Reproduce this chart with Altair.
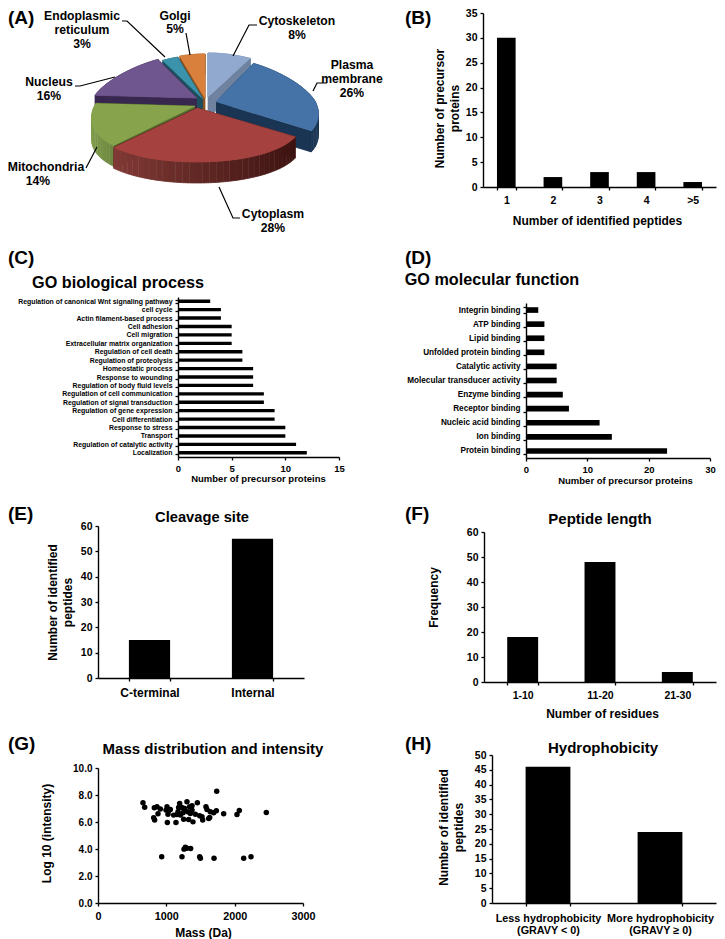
import math
import altair as alt
import pandas as pd

FONT = "Liberation Sans"
OX, OY = -8, -8   # page pixel -> chart pixel
W, H = 709, 931

# ---- data ----
pie_names = ["Cytoskeleton", "Plasma membrane", "Cytoplasm", "Mitochondria", "Nucleus", "Endoplasmic reticulum", "Golgi"]
pie_shares = [8, 26, 28, 14, 16, 3, 5]

b_cats = ["1", "2", "3", "4", ">5"]
b_vals = [30, 2, 3, 3, 1]

c_cats = ["Regulation of canonical Wnt signaling pathway", "cell cycle", "Actin filament-based process",
          "Cell adhesion", "Cell migration", "Extracellular matrix organization", "Regulation of cell death",
          "Regulation of proteolysis", "Homeostatic process", "Response to wounding",
          "Regulation of body fluid levels", "Regulation of cell communication", "Regulation of signal transduction",
          "Regulation of gene expression", "Cell differentiation", "Response to stress", "Transport",
          "Regulation of catalytic activity", "Localization"]
c_vals = [3, 4, 4, 5, 5, 5, 6, 6, 7, 7, 7, 8, 8, 9, 9, 10, 10, 11, 12]

d_cats = ["Integrin binding", "ATP binding", "Lipid binding", "Unfolded protein binding", "Catalytic activity",
          "Molecular transducer activity", "Enzyme binding", "Receptor binding", "Nucleic acid binding",
          "Ion binding", "Protein binding"]
d_vals = [2, 3, 3, 3, 5, 5, 6, 7, 12, 14, 23]

e_cats = ["C-terminal", "Internal"]
e_vals = [15, 55]
f_cats = ["1-10", "11-20", "21-30"]
f_vals = [18, 48, 4]
h_cats = ["Less hydrophobicity|(GRAVY < 0)", "More hydrophobicity|(GRAVY \u2265  0)"]
h_vals = [46, 24]

g_mass = [658, 683, 815, 829, 824, 863, 878, 912, 1010, 995, 1034, 1015, 1059, 1024, 1107, 1156, 1141, 1180, 1171,
          1195, 1205, 1229, 1244, 1254, 1268, 1302, 1312, 1327, 1341, 1351, 1376, 1376, 1390, 1424, 1454, 1488, 1522,
          1532, 1580, 1595, 1620, 1634, 1644, 1693, 1732, 1839, 2034, 2068, 2463, 1737,
          932, 1229, 1259, 1278, 1302, 1356, 1488, 1498, 1698, 2132, 2239]
g_int = [7.43, 7.10, 6.31, 6.14, 7.05, 7.13, 6.61, 6.96, 7.13, 6.88, 6.81, 5.97, 6.93, 6.58, 6.51, 6.56, 5.97, 7.08,
         6.76, 7.38, 6.51, 7.08, 6.68, 6.21, 7.00, 7.50, 6.76, 6.19, 7.13, 6.63, 7.20, 6.88, 6.01, 6.58, 7.43, 6.46,
         6.39, 6.14, 7.13, 6.93, 6.26, 6.34, 6.76, 6.68, 6.83, 6.61, 6.56, 6.86, 6.71, 8.27,
         3.42, 3.42, 3.99, 4.13, 4.06, 4.03, 3.42, 3.32, 3.32, 3.32, 3.42]


def sx(v):
    return v + OX


def sy(v):
    return v + OY


def axis(orient, pos, size, title=None, tx=None, ty=None, tsize=12, ticks=True, **kw):
    """axis placed at page coordinate pos, title centre at page coordinates (tx, ty)"""
    opts = dict(
        orient=orient, grid=False, domainColor="black", domainWidth=1.4, tickColor="black", tickWidth=1.3,
        tickSize=3, labelColor="black", labelFont=FONT, labelFontWeight="bold", labelFontSize=size,
        labelOverlap=False, labelFlush=False, labelLimit=400, zindex=1, ticks=ticks,
    )
    if orient == "left":
        opts["offset"] = -sx(pos)
    else:
        opts["offset"] = -(H - sy(pos))
    if title:
        opts.update(title=title, titleColor="black", titleFont=FONT, titleFontWeight="bold", titleFontSize=tsize,
                    titleLineHeight=15.5, titleAlign="center", titleBaseline="middle")
        if orient == "left":
            opts.update(titleAngle=270, titleX=tx - pos, titleY=sy(ty))
        else:
            opts.update(titleAngle=0, titleX=sx(tx), titleY=ty - pos)
    else:
        opts["title"] = None
    opts.update(kw)
    return alt.Axis(**opts)


def vbars(cats, vals, l, r, top, bot, vmax, vticks, ysize, xsize, ytitle, ty_x, ty_y, xtitle=None, tx_x=None,
          tx_y=None, xkw=None):
    df = pd.DataFrame({"c": cats, "v": vals})
    return alt.Chart(df).mark_bar(color="black").encode(
        x=alt.X("c:N", sort=None,
                scale=alt.Scale(domain=cats, range=[sx(l), sx(r)], paddingInner=0.6, paddingOuter=0.3),
                axis=axis("bottom", bot, xsize, xtitle, tx_x, tx_y, tickBand="extent", labelAngle=0,
                          **(xkw or {}))),
        y=alt.Y("v:Q", stack=None,
                scale=alt.Scale(domain=[0, vmax], range=[sy(bot), sy(top)], nice=False),
                axis=axis("left", l, ysize, ytitle, ty_x, ty_y, values=vticks, labelPadding=3)),
    )


def hbars(cats, vals, l, r, top, bot, vmax, vticks, ysize, xsize, xtitle, tx_x, tx_y, pad=0.6):
    df = pd.DataFrame({"c": cats, "v": vals})
    return alt.Chart(df).mark_bar(color="black").encode(
        y=alt.Y("c:N", sort=None,
                scale=alt.Scale(domain=cats, range=[sy(top), sy(bot)], paddingInner=pad, paddingOuter=pad / 2),
                axis=axis("left", l, ysize, None, tickBand="extent", labelPadding=3)),
        x=alt.X("v:Q", stack=None,
                scale=alt.Scale(domain=[0, vmax], range=[sx(l), sx(r)], nice=False),
                axis=axis("bottom", bot, xsize, xtitle, tx_x, tx_y, tsize=9.5, values=vticks, labelPadding=3)),
    )


def note(text, x, y, size=12, align="center"):
    return alt.Chart(alt.Data(values=[{"t": 1}])).mark_text(
        text=text, font=FONT, fontWeight="bold", fontSize=size, color="black", align=align, baseline="middle",
    ).encode(x=alt.value(sx(x)), y=alt.value(sy(y)))


# ---- exploded 3-D pie built from the shares ----
def mix(a, b, f):
    ca = [int(a[i:i + 2], 16) for i in (1, 3, 5)]
    cb = [int(b[i:i + 2], 16) for i in (1, 3, 5)]
    return "#%02x%02x%02x" % tuple(round(p + (q - p) * f) for p, q in zip(ca, cb))


RX, K, RYB, RYF, DEPTH = 107, 0.25, 44, 54, 21
pie_apex = {"Cytoskeleton": (208, 97), "Plasma membrane": (216, 102), "Cytoplasm": (197, 108),
            "Mitochondria": (195, 106), "Nucleus": (197, 98), "Endoplasmic reticulum": (203, 99), "Golgi": (205, 98)}
pie_rx = {"Cytoskeleton": 1.05, "Plasma membrane": 0.93, "Cytoplasm": 0.96, "Mitochondria": 0.94, "Nucleus": 0.97,
          "Endoplasmic reticulum": 1.0, "Golgi": 1.0}
pie_top = {"Cytoskeleton": "#92a9cf", "Plasma membrane": "#4573a7", "Cytoplasm": "#a5413e", "Mitochondria": "#87a44c",
           "Nucleus": "#70568e", "Endoplasmic reticulum": "#3a93ab", "Golgi": "#d9813c"}
pie_wall = {"Cytoskeleton": "#6f83a0", "Plasma membrane": "#1a3553", "Cytoplasm": "#4a1a18", "Mitochondria": "#556b2b",
            "Nucleus": "#38274f", "Endoplasmic reticulum": "#1d4e5d", "Golgi": "#8f5320"}
pie_rim = {"Cytoskeleton": ("#6f83a0", "#6f83a0"), "Plasma membrane": ("#1a3553", "#1a3553"),
           "Cytoplasm": ("#813a36", "#3d1311"), "Mitochondria": ("#7f9b4a", "#6c8540"),
           "Nucleus": ("#38274f", "#38274f"), "Endoplasmic reticulum": ("#1d4e5d", "#1d4e5d"),
           "Golgi": ("#8f5320", "#8f5320")}


def rim(name, t):
    ax, ay = pie_apex[name]
    c, s = math.cos(t), math.sin(t)
    return ax + RX * pie_rx[name] * (1 - K * c) * s, ay - (RYB if c > 0 else RYF) * c


bounds = {}
acc = 0
for nm, sh in zip(pie_names, pie_shares):
    bounds[nm] = (acc / 100 * 2 * math.pi, (acc + sh) / 100 * 2 * math.pi)
    acc += sh

rows = []
pid = 0


def poly(points, col):
    global pid
    pid += 1
    for i, (px, py) in enumerate(points):
        rows.append({"poly": pid, "seq": i, "px": px, "py": py, "c": col})


for nm in ["Cytoskeleton", "Golgi", "Endoplasmic reticulum", "Nucleus", "Plasma membrane", "Mitochondria", "Cytoplasm"]:
    t1, t2 = bounds[nm]
    apex = pie_apex[nm]
    down = lambda p: (p[0], p[1] + DEPTH)
    inner = (apex[0], apex[1])
    for t in (t1, t2):
        p = rim(nm, t)
        poly([inner, p, down(p), down(inner)], pie_wall[nm])
    n = max(3, int((t2 - t1) / math.radians(3)))
    ts = [t1 + (t2 - t1) * i / n for i in range(n + 1)]
    pts = [rim(nm, t) for t in ts]
    xs = [p[0] for p in pts]
    for i in range(n):
        a, b = pts[i], pts[i + 1]
        f = ((a[0] + b[0]) / 2 - min(xs)) / max(1, max(xs) - min(xs))
        poly([a, b, down(b), down(a)], mix(pie_rim[nm][0], pie_rim[nm][1], f))
    poly([inner] + pts, pie_top[nm])

pie_df = pd.DataFrame(rows)
page_x = alt.Scale(domain=[0, 725], range=[sx(0), sx(725)], nice=False, zero=False)
page_y = alt.Scale(domain=[0, 939], range=[sy(0), sy(939)], nice=False, zero=False)

pie = alt.Chart(pie_df).mark_line(strokeWidth=0.8, interpolate="linear").encode(
    x=alt.X("px:Q", scale=page_x, axis=None),
    y=alt.Y("py:Q", scale=page_y, axis=None),
    detail="poly:N",
    order="seq:Q",
    fill=alt.Fill("c:N", scale=None),
    stroke=alt.Stroke("c:N", scale=None),
)

lead_paths = {
    "Cytoskeleton": [(233, 56), (249, 25), (257, 25)],
    "Plasma membrane": [(313, 91), (317, 83), (327, 83)],
    "Cytoplasm": [(219, 187), (233, 218), (240, 218)],
    "Mitochondria": [(97, 147), (86, 168)],
    "Nucleus": [(115, 77), (80, 86), (75, 86)],
    "Endoplasmic reticulum": [(165, 57), (127, 21), (122, 21)],
    "Golgi": [(190, 55), (186, 33)],
}
lead_rows = [{"k": k, "i": i, "px": p[0], "py": p[1]} for k, v in lead_paths.items() for i, p in enumerate(v)]
leads = alt.Chart(pd.DataFrame(lead_rows)).mark_line(color="black", strokeWidth=1.2).encode(
    x=alt.X("px:Q", scale=page_x, axis=None),
    y=alt.Y("py:Q", scale=page_y, axis=None),
    detail="k:N",
    order="i:Q",
)

layers = [pie, leads]

# pie labels
PL = 12.2
for txt, x, y in [("Cytoskeleton", 297, 21), ("8%", 297, 35), ("Plasma", 352, 65), ("membrane", 352, 79), ("26%", 352, 93),
                  ("Cytoplasm", 273, 214), ("28%", 273, 228), ("Mitochondria", 46, 167), ("14%", 38, 181),
                  ("Nucleus", 49, 82), ("16%", 49, 96), ("Endoplasmic", 82, 16), ("reticulum", 82, 30), ("3%", 82, 44),
                  ("Golgi", 175, 16), ("5%", 175, 29)]:
    layers.append(note(txt, x, y, PL))

# B
layers.append(vbars(b_cats, b_vals, 483, 716, 13, 187, 35, [0, 5, 10, 15, 20, 25, 30, 35], 10.5, 10.5,
                    ["Number of precursor", "proteins"], 439, 108, "Number of identified peptides", 597, 220,
                    xkw={"labelPadding": 5}))
# C
layers.append(hbars(c_cats, c_vals, 178, 339, 297, 457, 15, [0, 5, 10, 15], 6.9, 9.5,
                    "Number of precursor proteins", 258, 478))
# D
layers.append(hbars(d_cats, d_vals, 526, 710, 303, 458, 30, [0, 10, 20, 30], 8.2, 9.5,
                    "Number of precursor proteins", 625, 480))
# E
layers.append(vbars(e_cats, e_vals, 98, 304, 526, 678, 60, [0, 10, 20, 30, 40, 50, 60], 10.5, 12,
                    ["Number of identified", "peptides"], 52, 602, xkw={"labelPadding": 6}))
# F
layers.append(vbars(f_cats, f_vals, 484, 716, 532, 682, 60, [0, 10, 20, 30, 40, 50, 60], 10.5, 10.5,
                    "Frequency", 433, 597, "Number of residues", 602, 713, xkw={"labelPadding": 5}))
# H
layers.append(vbars(h_cats, h_vals, 492, 716, 755, 903, 50, list(range(0, 51, 5)), 10.5, 10.8,
                    ["Number of identified", "peptides"], 443, 827,
                    xkw={"labelPadding": 6, "labelExpr": "split(datum.label, '|')", "labelLineHeight": 12.5}))
# G
g_df = pd.DataFrame({"m": g_mass, "i": g_int})
layers.append(alt.Chart(g_df).mark_circle(color="black", size=30, opacity=1).encode(
    x=alt.X("m:Q", scale=alt.Scale(domain=[0, 3000], range=[sx(98), sx(303)], nice=False),
            axis=axis("bottom", 903, 10.8, "Mass (Da)", 203, 932, values=[0, 1000, 2000, 3000], format="d",
                      labelPadding=4)),
    y=alt.Y("i:Q", scale=alt.Scale(domain=[0, 10], range=[sy(903), sy(768)], nice=False),
            axis=axis("left", 98, 10, "Log 10 (intensity)", 46, 833, values=[0, 2, 4, 6, 8, 10], format=".1f",
                      labelPadding=3)),
))

# titles
for txt, x, y, s in [("GO biological process", 118, 283, 16.2), ("GO molecular function", 492, 280, 16.2),
                     ("Cleavage site", 202, 518, 14.7), ("Peptide length", 600, 519, 15),
                     ("Mass distribution and intensity", 213, 749, 15), ("Hydrophobicity", 603, 748, 15)]:
    layers.append(note(txt, x, y, s))

# panel letters
for txt, x, y in [("(A)", 8, 18), ("(B)", 405, 18), ("(C)", 8, 258), ("(D)", 405, 258), ("(E)", 8, 514), ("(F)", 405, 514),
                  ("(G)", 8, 744), ("(H)", 405, 744)]:
    layers.append(note(txt, x, y, 19, "left"))

chart = alt.layer(*layers).resolve_scale(x="independent", y="independent").properties(
    width=W, height=H, padding=0,
    autosize=alt.AutoSizeParams(type="none"),
).configure_view(stroke=None)

chart.save("out.html", embed_options={"renderer": "svg", "actions": False})
